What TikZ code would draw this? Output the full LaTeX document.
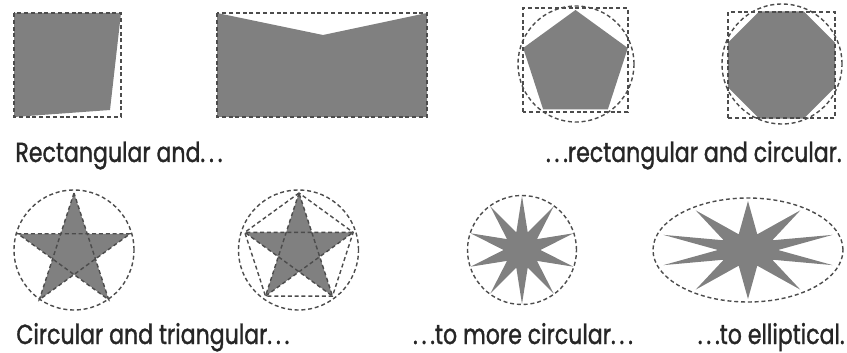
\documentclass[tikz,border=0pt]{standalone}
\usepackage{fontspec}
\setmainfont{Poppins}[FakeStretch=0.8,FakeBold=1.2]
\usepackage{xcolor}
\usepackage{tikz}
\colorlet{shapeGray}{black!50}
\colorlet{guideGray}{black!70}
\newcommand{\dotsgap}{.\kern2pt.\kern2pt.}
\tikzset{
  x=0.5pt,
  y=-0.5pt,
  % the filled shapes
  solidshape/.style={
    fill=shapeGray,
    draw=none
  },
  % the dashed guide outlines round each shape
  guide/.style={
    draw=guideGray,
    line width=0.7pt,
    dash pattern=on 2pt off 1.4pt
  },
  caption/.style={
    font=\fontsize{13.8pt}{15pt}\selectfont,
    inner sep=0pt,
    text=black!85
  }
}
\begin{document}
\begin{tikzpicture}
\useasboundingbox (0,0) rectangle (847,353);

% --- first row: rectangular to circular
\fill[solidshape] (14,13) -- (121,13) -- (110,110) -- (14,117) -- cycle;
\draw[guide] (14,13) rectangle (121,117);

\fill[solidshape] (217,13) -- (323,35) -- (427,13) -- (427,117) -- (217,117) -- cycle;
\draw[guide] (217,13) rectangle (427,117);

\begin{scope}[shift={(575.5,65)}, yscale=-1]
  \fill[solidshape] (90:55) \foreach \a in {162,234,306,18} { -- (\a:55) } -- cycle;
  \draw[guide] (-52.5,-47) rectangle (52.5,57);
  \draw[guide] (0.5,1) circle[radius=58];
\end{scope}

\begin{scope}[shift={(781.5,65)}, yscale=-1]
  \fill[solidshape] (22.5:58) \foreach \a in {67.5,112.5,...,337.5} { -- (\a:58) } -- cycle;
  \draw[guide] (-53.5,-53) rectangle (53.5,53);
  \draw[guide] (0.5,1) circle[radius=60];
\end{scope}

\node[caption, anchor=base west] (rectcap) at (15,162) {Rectangular and\dotsgap};
\node[caption, anchor=base east] (circcap) at (842,162) {\dotsgap rectangular and circular.};

% --- second row: star shapes
\begin{scope}[shift={(74,252)}, yscale=-1]
  \fill[solidshape] (90:59) \foreach \a in {90,162,234,306,18} { -- (\a+36:22.5) -- (\a+72:59) } -- cycle;
  \draw[guide] (90:59) -- (234:59) -- (18:59) -- (162:59) -- (306:59) -- cycle;
  \draw[guide] (0,2) circle[radius=60];
\end{scope}

\begin{scope}[shift={(299,250)}, yscale=-1]
  \fill[solidshape] (90:57) \foreach \a in {90,162,234,306,18} { -- (\a+36:21.8) -- (\a+72:57) } -- cycle;
  \draw[guide] (90:57) -- (234:57) -- (18:57) -- (162:57) -- (306:57) -- cycle;
  \draw[guide] (90:57) -- (162:57) -- (234:57) -- (306:57) -- (18:57) -- cycle;
  \draw[guide] (-0.5,0) circle[radius=60];
\end{scope}

\begin{scope}[shift={(522,250)}, yscale=-1]
  \fill[solidshape] (90:54) \foreach \a in {90,126,...,414} { -- (\a+18:18.5) -- (\a+36:54) } -- cycle;
  \draw[guide] (0,0) circle[radius=54.5];
\end{scope}

\begin{scope}[shift={(748,250)}, yscale=-1]
  \fill[solidshape] ({89*cos(90)},{49*sin(90)})
    \foreach \a in {90,126,...,414} { -- ({30*cos(\a+18)},{16.5*sin(\a+18)}) -- ({89*cos(\a+36)},{49*sin(\a+36)}) } -- cycle;
  \draw[guide] (0,0) ellipse[x radius=95, y radius=52];
\end{scope}

\node[caption, anchor=base west] (starcap) at (16,344) {Circular and triangular\dotsgap};
\node[caption, anchor=base] (morecap) at (523,344) {\dotsgap to more circular\dotsgap};
\node[caption, anchor=base east] (ellcap) at (845,344) {\dotsgap to elliptical.};
\end{tikzpicture}
\end{document}
